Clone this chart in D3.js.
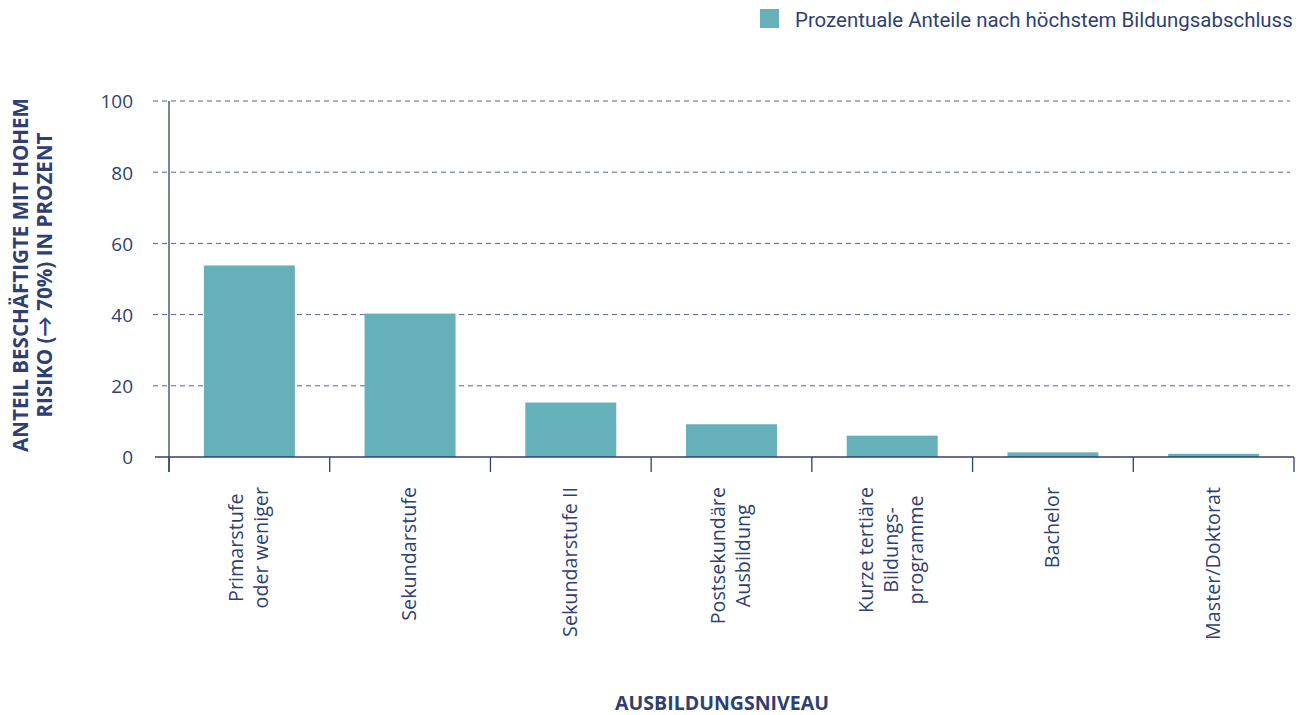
<!DOCTYPE html>
<html>
<head>
<meta charset="utf-8">
<script src="https://cdn.jsdelivr.net/npm/d3@7"></script>
<style>
  body { margin: 0; background: #fff; }
  svg { display: block; }
</style>
</head>
<body>
<div id="chart"></div>
<script>
// data
const categories = ['Primarstufe oder weniger', 'Sekundarstufe', 'Sekundarstufe II', 'Postsekundäre Ausbildung',
  'Kurze tertiäre Bildungsprogramme', 'Bachelor', 'Master/Doktorat'];
const tickLabels = [['Primarstufe', 'oder weniger'], ['Sekundarstufe'], ['Sekundarstufe II'], ['Postsekundäre', 'Ausbildung'],
  ['Kurze tertiäre', 'Bildungs-', 'programme'], ['Bachelor'], ['Master/Doktorat']];
const values = [53.8, 40.3, 15.3, 9.2, 6.0, 1.3, 0.9];
const yTicks = [0, 20, 40, 60, 80, 100];
const seriesName = 'Prozentuale Anteile nach höchstem Bildungsabschluss';

const navy = '#2f3f72';
const barColor = '#66b0ba';
const font = '"Open Sans", Lato, sans-serif';

const W = 1306, H = 715;
const margin = { top: 101, right: 12, bottom: 258, left: 169 };
const width = W - margin.left - margin.right;
const height = H - margin.top - margin.bottom;

const svg = d3.select('#chart')
  .append('svg')
  .attr('width', W)
  .attr('height', H)
  .style('font-family', font);

// pick a font size so that a sample string gets the wanted length
function fitSize(sample, target, family, weight) {
  const t = svg.append('text')
    .style('font-family', family)
    .style('font-weight', weight || 'normal')
    .style('font-size', '20px')
    .text(sample);
  const w = t.node().getComputedTextLength();
  t.remove();
  return 20 * target / w;
}

const g = svg.append('g')
  .attr('transform', 'translate(' + margin.left + ',' + margin.top + ')');

// scales
const x = d3.scaleBand()
  .domain(categories)
  .range([0, width])
  .paddingInner(0.434)
  .paddingOuter(0.217);

const y = d3.scaleLinear()
  .domain([0, 100])
  .range([height, 0]);

// dashed grid
g.append('g')
  .selectAll('line')
  .data(yTicks.filter(d => d > 0))
  .enter()
  .append('line')
  .attr('x1', -16)
  .attr('x2', width - 4)
  .attr('y1', d => y(d))
  .attr('y2', d => y(d))
  .attr('stroke', '#56648f')
  .attr('stroke-width', 1)
  .attr('stroke-dasharray', '5,4');

// bars
g.selectAll('.bar')
  .data(values)
  .enter()
  .append('rect')
  .attr('x', (d, i) => x(categories[i]))
  .attr('y', d => y(d))
  .attr('width', x.bandwidth())
  .attr('height', d => height - y(d))
  .attr('fill', barColor);

// y axis
const yAxis = g.append('g')
  .call(d3.axisLeft(y).tickValues(yTicks).tickSize(0).tickPadding(36));
yAxis.select('.domain').remove();
yAxis.selectAll('text')
  .attr('fill', navy)
  .attr('dy', '0.36em')
  .style('font-size', '19px')
  .style('font-family', font);

g.append('line')
  .attr('x1', 0).attr('x2', 0)
  .attr('y1', 0).attr('y2', height + 15)
  .attr('stroke', navy).attr('stroke-width', 1.3);

// x axis
g.append('line')
  .attr('x1', -14).attr('x2', width)
  .attr('y1', height).attr('y2', height)
  .attr('stroke', navy).attr('stroke-width', 1.3);

const bounds = categories.map(c => x(c) - x.step() * x.paddingInner() / 2)
  .concat([width]);
g.append('g')
  .selectAll('line')
  .data(bounds)
  .enter()
  .append('line')
  .attr('x1', d => d).attr('x2', d => d)
  .attr('y1', height).attr('y2', height + 15)
  .attr('stroke', navy).attr('stroke-width', 1.3);

// category labels, rotated
const labelSize = fitSize('Master/Doktorat', 153, font);
const lineGap = 25;
const labels = g.append('g')
  .selectAll('text')
  .data(categories)
  .enter()
  .append('text')
  .attr('text-anchor', 'end')
  .attr('fill', navy)
  .style('font-size', labelSize + 'px')
  .attr('transform', d => {
    const cx = x(d) + x.bandwidth() / 2;
    return 'translate(' + cx + ',' + (height + 30) + ')rotate(-90)';
  });

labels.each(function (d, i) {
  const lines = tickLabels[i];
  const off = -(lines.length - 1) / 2 * lineGap + 6;
  const sel = d3.select(this);
  lines.forEach((t, j) => {
    sel.append('tspan')
      .attr('x', 0)
      .attr('y', off + j * lineGap)
      .text(t);
  });
  // centre each line inside its block
  const tspans = sel.selectAll('tspan').nodes();
  const maxW = d3.max(tspans, n => n.getComputedTextLength());
  tspans.forEach(n => {
    d3.select(n).attr('x', -(maxW - n.getComputedTextLength()) / 2);
  });
});

// y axis title
const yTitleSize = fitSize('ANTEIL BESCHÄFTIGTE MIT HOHEM', 354, font, 'bold');
const yTitle = svg.append('text')
  .attr('transform', 'translate(0,275)rotate(-90)')
  .attr('text-anchor', 'middle')
  .attr('fill', navy)
  .style('font-size', yTitleSize + 'px')
  .style('font-weight', 'bold');
yTitle.append('tspan').attr('x', 0).attr('y', 28).text('ANTEIL BESCHÄFTIGTE MIT HOHEM');
yTitle.append('tspan').attr('x', 0).attr('y', 52).text('RISIKO (→ 70%) IN PROZENT');

// x axis title
const xTitleSize = fitSize('AUSBILDUNGSNIVEAU', 214, font, 'bold');
svg.append('text')
  .attr('x', 722)
  .attr('y', 710)
  .attr('text-anchor', 'middle')
  .attr('fill', navy)
  .style('font-size', xTitleSize + 'px')
  .style('font-weight', 'bold')
  .text('AUSBILDUNGSNIVEAU');

// legend
const legendFont = 'Roboto, sans-serif';
const legendSize = fitSize(seriesName, 498, legendFont);
const legend = svg.append('g');
legend.append('rect')
  .attr('x', 760).attr('y', 9)
  .attr('width', 19).attr('height', 19)
  .attr('fill', barColor);
legend.append('text')
  .attr('x', 795)
  .attr('y', 27)
  .attr('fill', navy)
  .style('font-size', legendSize + 'px')
  .style('font-family', legendFont)
  .text(seriesName);
</script>
</body>
</html>
